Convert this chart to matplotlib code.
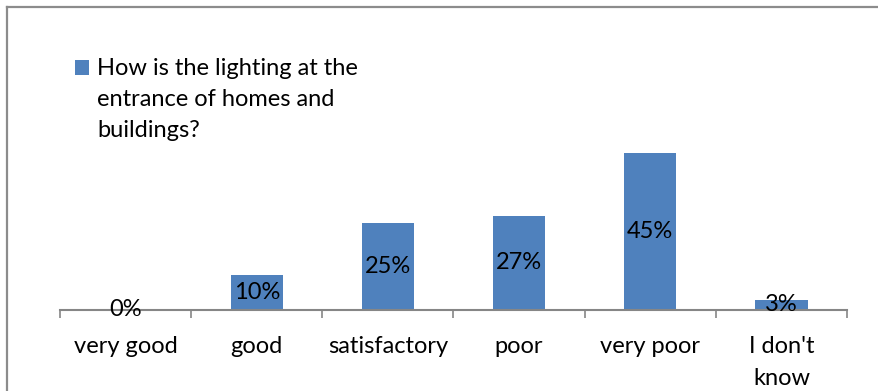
import numpy as np
import matplotlib
matplotlib.use('Agg')
import matplotlib.pyplot as plt
from matplotlib.patches import Rectangle
from matplotlib.lines import Line2D

categories = ['very good', 'good', 'satisfactory', 'poor', 'very poor', "I don't\nknow"]
values = [0.0, 0.10, 0.25, 0.27, 0.45, 0.03]
value_labels = ['0%', '10%', '25%', '27%', '45%', '3%']
series_name = 'How is the lighting at the\nentrance of homes and\nbuildings?'

plt.rcParams['font.family'] = ['Lato', 'DejaVu Sans']
bar_color = '#4F81BD'

W, H = 879, 391
fig = plt.figure(figsize=(W / 100, H / 100), dpi=100)
fig.patch.set_facecolor('white')

# outer chart frame: only top and left edges visible in the original
frame = dict(transform=fig.transFigure, color='#8c8c8c', linewidth=1.6)
fig.lines.append(Line2D([7 / W, 1.0], [1 - 7 / H, 1 - 7 / H], **frame))
fig.lines.append(Line2D([7 / W, 7 / W], [0.0, 1 - 7 / H], **frame))

ax = fig.add_axes([60 / W, 81 / H, 787 / W, 175 / H])
x = np.arange(len(categories))
bars = ax.bar(x, values, width=0.4, color=bar_color)
ax.bar_label(bars, labels=value_labels, label_type='center', fontsize=17, color='black')

ax.set_xlim(-0.5, len(categories) - 0.5)
ax.set_ylim(0, 0.5)
ax.set_xticks(x, categories, fontsize=17, linespacing=1.6)
ax.set_xticks(np.arange(-0.5, len(categories), 1), minor=True)
ax.tick_params(axis='x', which='major', length=0, pad=19)
ax.tick_params(axis='x', which='minor', length=6, width=1.2, color='#868686', direction='out')
ax.set_yticks([])
for s in ['top', 'right', 'left']:
    ax.spines[s].set_visible(False)
ax.spines['bottom'].set_color('#868686')
ax.spines['bottom'].set_linewidth(1.5)
ax.patch.set_alpha(0)

# legend: square key aligned with the first line of the wrapped series name
fig.patches.append(Rectangle((75 / W, 1 - 75 / H), 14 / W, 15 / H,
                             transform=fig.transFigure, facecolor=bar_color,
                             edgecolor='none'))
fig.text(97 / W, 1 - 58 / H, series_name, fontsize=17, va='top',
         ha='left', linespacing=1.6, transform=fig.transFigure)

fig.savefig('out.png', dpi=100)
